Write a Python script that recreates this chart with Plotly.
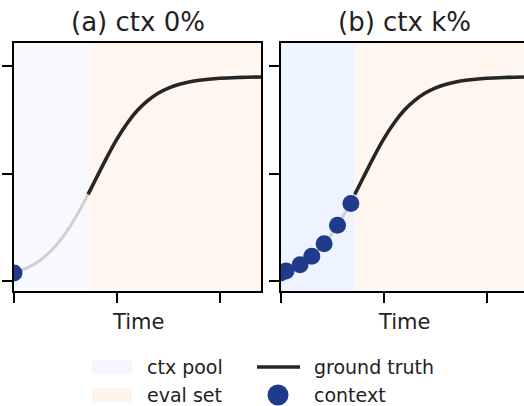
import plotly.graph_objects as go
from plotly.subplots import make_subplots

# ---- data ----
time = [0.0, 0.5, 1.0, 1.5, 2.0, 2.5, 3.0, 3.6, 4.0, 4.5, 5.0, 5.5, 6.0, 6.5, 7.0, 7.5, 8.0, 8.5, 9.0, 10.0, 11.0, 12.0]
truth = [0.037, 0.055, 0.079, 0.114, 0.161, 0.222, 0.297, 0.403, 0.479, 0.573, 0.660, 0.734, 0.794, 0.839,
         0.873, 0.897, 0.914, 0.926, 0.934, 0.943, 0.947, 0.949]
pool_end = 3.6
t_end = 12.0
ctx_a_t = [0.0]
ctx_a_y = [0.037]
ctx_b_t = [0.0, 0.26, 0.94, 1.51, 2.11, 2.76, 3.41]
ctx_b_y = [0.037, 0.046, 0.076, 0.115, 0.173, 0.259, 0.360]
titles = ["(a) ctx 0%", "(b) ctx k%"]
x_ticks = [0, 5, 10]
y_ticks = [0, 0.5, 1.0]
legend_labels = ["ctx pool", "eval set", "ground truth", "context"]

# ---- styles ----
W, H = 524, 406
ML, MT, MB = 14, 43, 115
PW = W - ML
PH = H - MT - MB
FONT = "DejaVu Sans"
POOL_A = "#f7f9ff"
POOL_B = "#eef4ff"
EVAL = "#fef6ef"
BLACK = "#262626"
GREY = "#d0d0d0"
BLUE = "#213b8b"

def px_x(p):
    return (p - ML) / PW

def px_y(p):
    return (H - MB - p) / PH

fig = make_subplots(rows=1, cols=2)

grey_t = [t for t in time if t <= pool_end]
grey_y = [y for t, y in zip(time, truth) if t <= pool_end]
black_t = [t for t in time if t >= pool_end]
black_y = [y for t, y in zip(time, truth) if t >= pool_end]

for col, (ct, cy) in enumerate([(ctx_a_t, ctx_a_y), (ctx_b_t, ctx_b_y)], start=1):
    fig.add_trace(go.Scatter(x=grey_t, y=grey_y, mode="lines", line=dict(color=GREY, width=3, shape="spline"),
                             showlegend=False, hoverinfo="skip"), row=1, col=col)
    fig.add_trace(go.Scatter(x=black_t, y=black_y, mode="lines", line=dict(color=BLACK, width=3.6, shape="spline"),
                             showlegend=False), row=1, col=col)
    fig.add_trace(go.Scatter(x=ct, y=cy, mode="markers", marker=dict(color=BLUE, size=17, line=dict(width=0)),
                             showlegend=False), row=1, col=col)

# shaded regions
for xr, yr, pool_col in [("x", "y", POOL_A), ("x2", "y2", POOL_B)]:
    fig.add_shape(type="rect", xref=xr, yref=yr + " domain", x0=0, x1=pool_end, y0=0, y1=1,
                  fillcolor=pool_col, line_width=0, layer="below")
    fig.add_shape(type="rect", xref=xr, yref=yr + " domain", x0=pool_end, x1=t_end + 1, y0=0, y1=1,
                  fillcolor=EVAL, line_width=0, layer="below")

axis_common = dict(showgrid=False, zeroline=False, showline=True, linecolor="black", linewidth=2,
                   ticks="outside", ticklen=10, tickwidth=1.8, tickcolor="black", showticklabels=False)
b_left = 280.7
b_range = (W - b_left) / (PW_a := (261 - ML)) * t_end
fig.update_xaxes(**axis_common, tickvals=x_ticks, mirror=True)
fig.update_yaxes(**axis_common, tickvals=y_ticks, range=[-10 / 215, 238 / 215])
fig.update_layout(
    xaxis=dict(domain=[0, px_x(261)], range=[0, t_end]),
    xaxis2=dict(domain=[px_x(b_left), 1], range=[0, b_range]),
    yaxis=dict(mirror=True),
    yaxis2=dict(mirror=False),
)

ann = []
for title, cx in zip(titles, [137.5, 404]):
    ann.append(dict(text=title, x=px_x(cx), y=px_y(22), xref="paper", yref="paper", showarrow=False,
                    xanchor="center", yanchor="middle", font=dict(family=FONT, size=26, color="#222")))
    ann.append(dict(text="Time", x=px_x(cx), y=px_y(322), xref="paper", yref="paper", showarrow=False,
                    xanchor="center", yanchor="middle", font=dict(family=FONT, size=21, color="#222")))

# manual legend
shapes_leg = [
    dict(type="rect", xref="paper", yref="paper", x0=px_x(92), x1=px_x(132), y0=px_y(374), y1=px_y(360),
         fillcolor="#f4f7ff", line_width=0),
    dict(type="rect", xref="paper", yref="paper", x0=px_x(92), x1=px_x(132), y0=px_y(402), y1=px_y(388),
         fillcolor="#fef4ec", line_width=0),
    dict(type="line", xref="paper", yref="paper", x0=px_x(257), x1=px_x(300), y0=px_y(367), y1=px_y(367),
         line=dict(color=BLACK, width=3.6)),
    dict(type="circle", xref="paper", yref="paper", x0=px_x(267.5), x1=px_x(288.5), y0=px_y(405.5), y1=px_y(384.5),
         fillcolor=BLUE, line_width=0),
]
for s in shapes_leg:
    fig.add_shape(**s)
for lab, lx, ly in zip(legend_labels, [145, 145, 312, 312], [367, 395, 367, 395]):
    ann.append(dict(text=lab, x=px_x(lx), y=px_y(ly), xref="paper", yref="paper", showarrow=False,
                    xanchor="left", yanchor="middle", font=dict(family=FONT, size=19, color="#222")))

fig.update_layout(
    width=W, height=H, margin=dict(l=ML, r=0, t=MT, b=MB, pad=0),
    plot_bgcolor="white", paper_bgcolor="white", annotations=ann, showlegend=False,
)
fig.write_html("out.html")
